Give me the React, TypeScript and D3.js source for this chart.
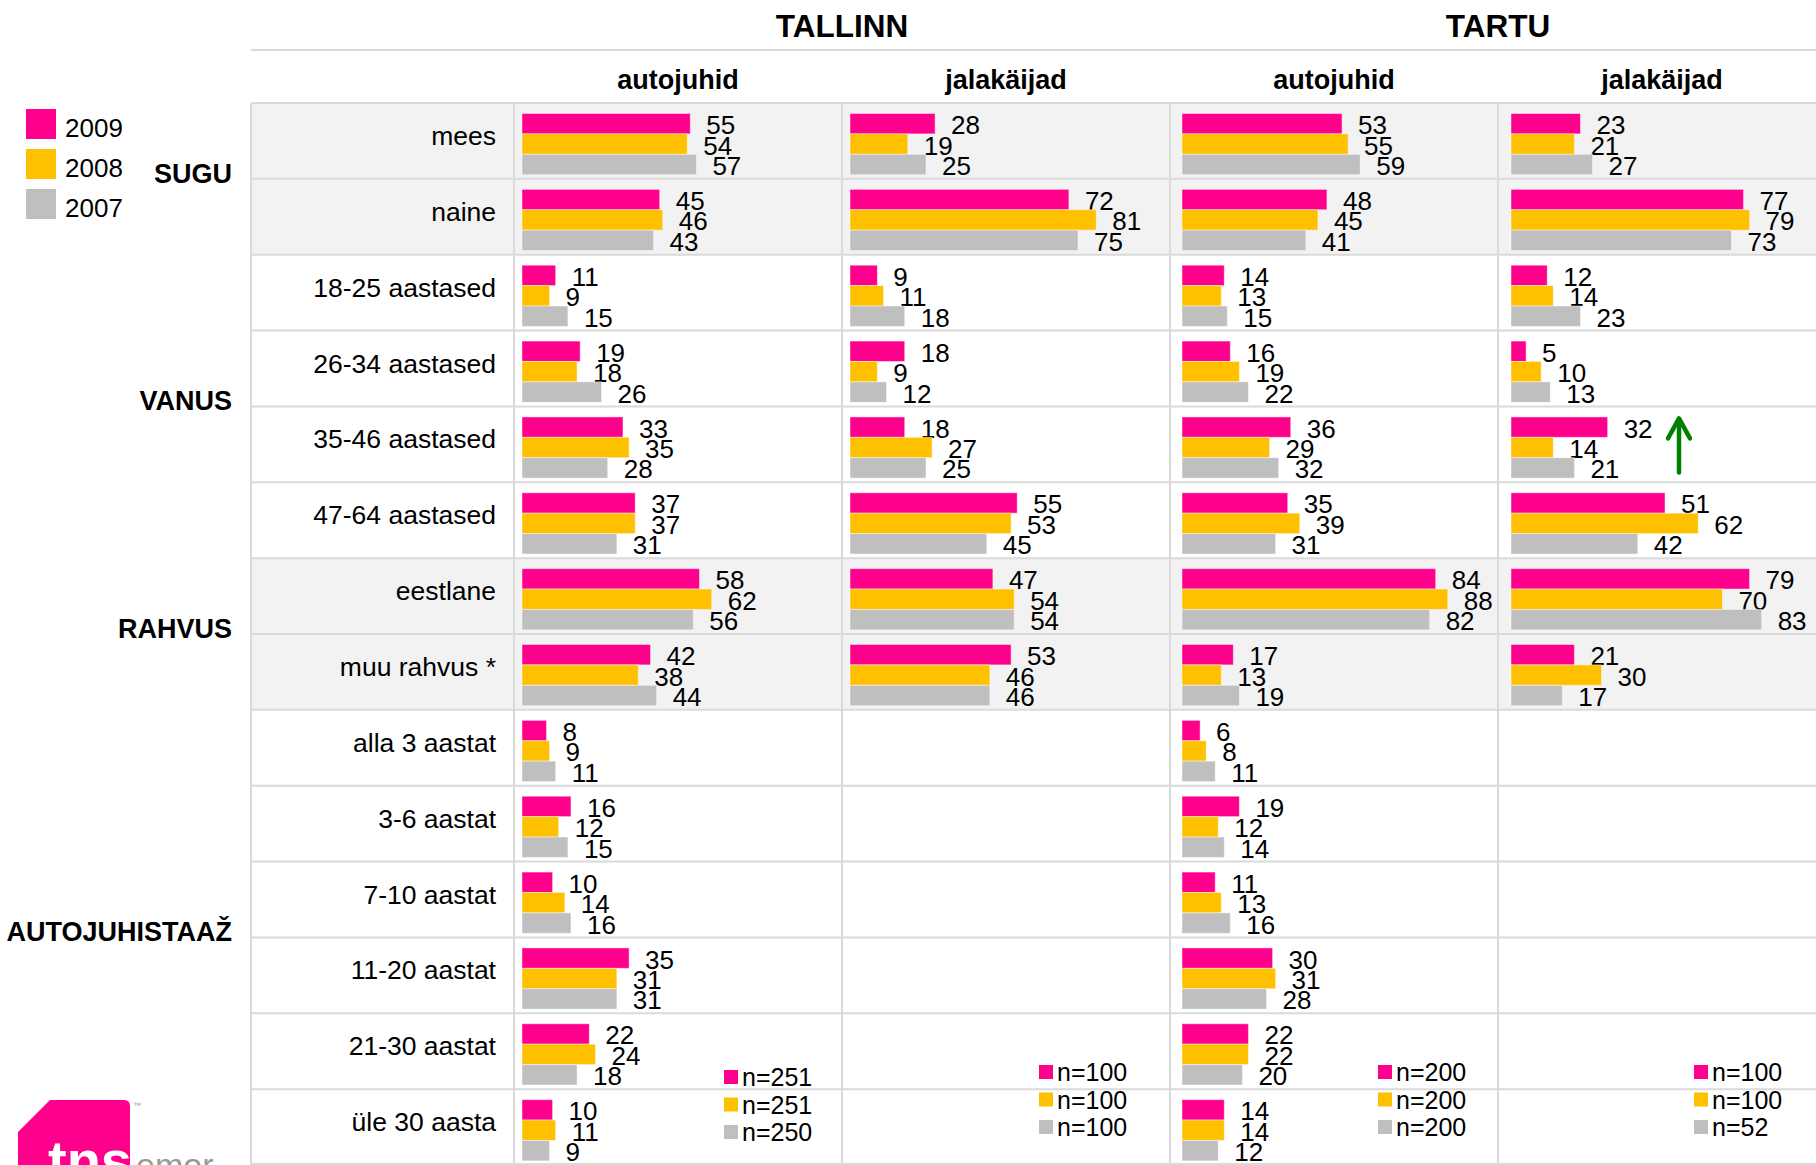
import React from "react";
import * as d3 from "d3";

// years / colours
const years = ["2009", "2008", "2007"];
const yearColors = ["#FF008C", "#FFC000", "#BFBFBF"];

const cities = ["TALLINN", "TARTU"];
const groups = ["autojuhid", "jalakäijad"];

const sectionNames = ["SUGU", "VANUS", "RAHVUS", "AUTOJUHISTAAŽ"];
const sectionSizes = [2, 4, 2, 6];

const rowLabels = [
  "mees",
  "naine",
  "18-25 aastased",
  "26-34 aastased",
  "35-46 aastased",
  "47-64 aastased",
  "eestlane",
  "muu rahvus *",
  "alla 3 aastat",
  "3-6 aastat",
  "7-10 aastat",
  "11-20 aastat",
  "21-30 aastat",
  "üle 30 aasta",
];

// [2009, 2008, 2007] per row
const tallinnDrivers = [
  [55, 54, 57], [45, 46, 43], [11, 9, 15], [19, 18, 26], [33, 35, 28], [37, 37, 31],
  [58, 62, 56], [42, 38, 44], [8, 9, 11], [16, 12, 15], [10, 14, 16], [35, 31, 31],
  [22, 24, 18], [10, 11, 9],
];
const tallinnWalkers = [
  [28, 19, 25], [72, 81, 75], [9, 11, 18], [18, 9, 12], [18, 27, 25], [55, 53, 45],
  [47, 54, 54], [53, 46, 46],
];
const tartuDrivers = [
  [53, 55, 59], [48, 45, 41], [14, 13, 15], [16, 19, 22], [36, 29, 32], [35, 39, 31],
  [84, 88, 82], [17, 13, 19], [6, 8, 11], [19, 12, 14], [11, 13, 16], [30, 31, 28],
  [22, 22, 20], [14, 14, 12],
];
const tartuWalkers = [
  [23, 21, 27], [77, 79, 73], [12, 14, 23], [5, 10, 13], [32, 14, 21], [51, 62, 42],
  [79, 70, 83], [21, 30, 17],
];

const tallinnDriversN = ["n=251", "n=251", "n=250"];
const tallinnWalkersN = ["n=100", "n=100", "n=100"];
const tartuDriversN = ["n=200", "n=200", "n=200"];
const tartuWalkersN = ["n=100", "n=100", "n=52"];

const panels = [
  { data: tallinnDrivers, n: tallinnDriversN },
  { data: tallinnWalkers, n: tallinnWalkersN },
  { data: tartuDrivers, n: tartuDriversN },
  { data: tartuWalkers, n: tartuWalkersN },
];

// layout
const W = 1816;
const H = 1165;
const FONT = "'Liberation Sans', Arial, sans-serif";
const gridLeft = 251;
const colStart = 514;
const colW = 328;
const tableTop = 103;
const lineColor = "#dadada";
const shadeColor = "#f2f2f2";
const barH = 20.4;
const barTop = 10.5;
const barInset = [8, 8, 12, 13];
const barRange = [306, 304, 302, 302];
const nLegendDx = [210, 197, 208, 196];
const nLegendY = [1077, 1072, 1072, 1072];

const App = () => {
  const rowY = d3
    .scaleBand<number>()
    .domain(d3.range(rowLabels.length))
    .range([tableTop, H])
    .paddingInner(0);
  const rowH = rowY.bandwidth();
  const xScales = barRange.map((r) => d3.scaleLinear().domain([0, 100]).range([0, r]));
  const colX = (i: number) => colStart + i * colW;

  // section extents
  const sectionStarts = sectionSizes.map((_, i) => d3.sum(sectionSizes.slice(0, i)));

  return (
    <svg
      width={W}
      height={H}
      style={{ position: "absolute", left: 0, top: 0, background: "#fff" }}
      fontFamily={FONT}
    >
      {/* shaded sections */}
      {sectionStarts.map((s, i) =>
        i % 2 === 0 ? (
          <rect
            key={"sh" + i}
            x={gridLeft}
            y={rowY(s)}
            width={W - gridLeft}
            height={rowH * sectionSizes[i]}
            fill={shadeColor}
          />
        ) : null
      )}

      {/* titles */}
      {cities.map((c, i) => (
        <text
          key={c}
          x={colX(i * 2 + 1)}
          y={37}
          textAnchor="middle"
          fontSize={31.5}
          fontWeight="bold"
        >
          {c}
        </text>
      ))}
      <line x1={gridLeft} x2={W} y1={50} y2={50} stroke={lineColor} strokeWidth={2} />
      {panels.map((_, i) => (
        <text
          key={"sub" + i}
          x={colX(i) + colW / 2}
          y={89}
          textAnchor="middle"
          fontSize={27}
          fontWeight="bold"
        >
          {groups[i % 2]}
        </text>
      ))}

      {/* grid */}
      {d3.range(rowLabels.length + 1).map((r) => {
        const y = r < rowLabels.length ? (rowY(r) as number) : H - 1;
        return (
          <line key={"h" + r} x1={gridLeft} x2={W} y1={y} y2={y} stroke={lineColor} strokeWidth={2} />
        );
      })}
      {[gridLeft, ...panels.map((_, i) => colX(i))].map((xv, i) => (
        <line key={"v" + i} x1={xv} x2={xv} y1={tableTop} y2={H} stroke={lineColor} strokeWidth={2} />
      ))}

      {/* row labels */}
      {rowLabels.map((l, r) => (
        <text
          key={l}
          x={496}
          y={(rowY(r) as number) + rowH / 2 + 4}
          textAnchor="end"
          fontSize={26.5}
        >
          {l}
        </text>
      ))}

      {/* section labels */}
      {sectionNames.map((s, i) => (
        <text
          key={s}
          x={232}
          y={(rowY(sectionStarts[i]) as number) + (rowH * sectionSizes[i]) / 2 + 4}
          textAnchor="end"
          fontSize={27}
          fontWeight="bold"
        >
          {s}
        </text>
      ))}

      {/* bars */}
      {panels.map((p, pi) =>
        p.data.map((vals, r) =>
          vals.map((v, k) => {
            const x = xScales[pi];
            const y0 = (rowY(r) as number) + barTop + k * barH;
            const x0 = colX(pi) + barInset[pi];
            return (
              <g key={`b${pi}-${r}-${k}`}>
                <rect
                  x={x0}
                  y={y0}
                  width={x(v)}
                  height={barH}
                  fill={yearColors[k]}
                  stroke="#fff"
                  strokeOpacity={0.45}
                  strokeWidth={1}
                />
                <text
                  x={x0 + x(v) + 16}
                  y={y0 + barH / 2 + 1.5}
                  dominantBaseline="central"
                  fontSize={26}
                >
                  {v}
                </text>
              </g>
            );
          })
        )
      )}

      {/* n legends */}
      {panels.map((p, pi) =>
        p.n.map((t, k) => {
          const cy = nLegendY[pi] + k * 27.5;
          const sx = colX(pi) + nLegendDx[pi];
          return (
            <g key={`n${pi}-${k}`}>
              <rect x={sx} y={cy - 7} width={14} height={14} fill={yearColors[k]} />
              <text x={sx + 18} y={cy} dominantBaseline="central" fontSize={25}>
                {t}
              </text>
            </g>
          );
        })
      )}

      {/* year legend */}
      {years.map((yr, k) => (
        <g key={yr}>
          <rect x={26} y={109 + k * 40} width={30} height={30} fill={yearColors[k]} />
          <text x={65} y={137 + k * 40} fontSize={26}>
            {yr}
          </text>
        </g>
      ))}

      {/* green arrow */}
      {(() => {
        const ax = colX(3) + 181;
        const top = (rowY(4) as number) + 12;
        const bot = (rowY(4) as number) + 66;
        return (
          <g stroke="#008000" strokeWidth={4.5} fill="none" strokeLinecap="round" strokeLinejoin="round">
            <line x1={ax} x2={ax} y1={top + 2} y2={bot} />
            <polyline points={`${ax - 11},${top + 20} ${ax},${top} ${ax + 11},${top + 20}`} />
          </g>
        );
      })()}

      {/* logo */}
      <path d="M18,1165 L18,1132 L50,1100 L124,1100 Q130,1100 130,1106 L130,1165 Z" fill="#FF008C" />
      <text x={133} y={1108} fontSize={8} fill="#999">
        ™
      </text>
      <text x={48} y={1180} fontSize={56} fontWeight="bold" fill="#fff">
        tns
      </text>
      <text x={136} y={1177} fontSize={34} fill="#9a9a9a">
        emor
      </text>
    </svg>
  );
};

export default App;
